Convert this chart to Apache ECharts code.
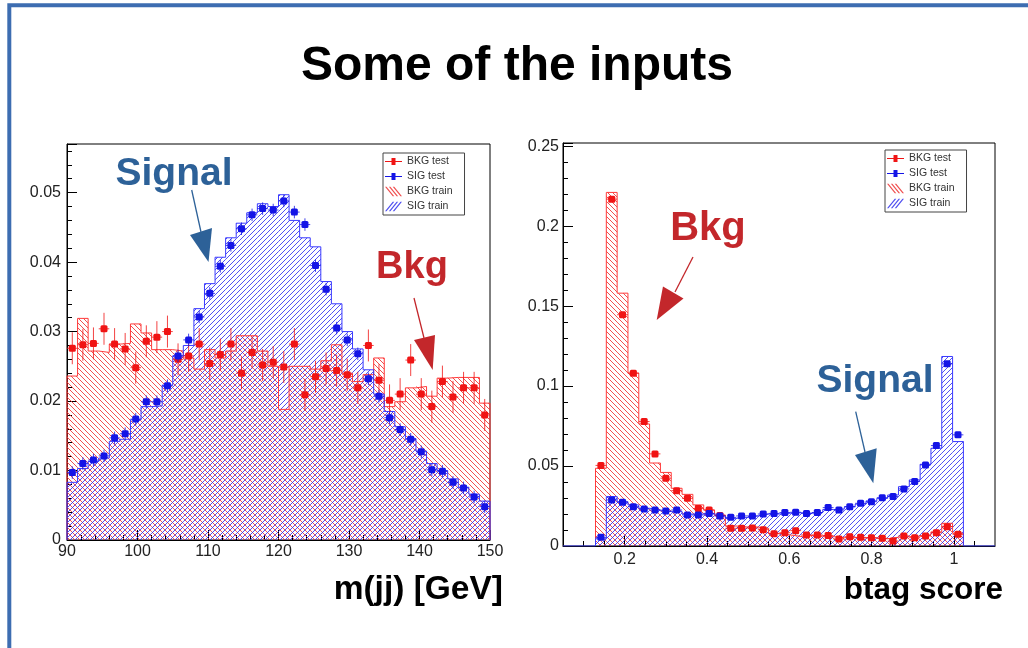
<!DOCTYPE html>
<html>
<head>
<meta charset="utf-8">
<title>Some of the inputs</title>
<script src="https://cdn.jsdelivr.net/npm/echarts@6.0.0/dist/echarts.min.js"></script>
<style>
html, body { margin: 0; padding: 0; background: #fff; }
#main { width: 1028px; height: 648px; }
</style>
</head>
<body>
<div id="main"></div>
<script>
// m(jj): 40 bins of 1.5 GeV starting at 90
var mjjStart = 90, mjjWidth = 1.5;
var mjjBkgTrain = [0.0236,0.0319,0.0272,0.0270,0.0282,0.0283,0.0311,0.0298,0.0274,0.0274,
                   0.0272,0.0262,0.0246,0.0274,0.0262,0.0272,0.0294,0.0294,0.0272,0.0250,
                   0.0188,0.0250,0.0250,0.0246,0.0258,0.0281,0.0240,0.0228,0.0238,0.0262,
                   0.0192,0.0199,0.0219,0.0221,0.0207,0.0233,0.0234,0.0234,0.0234,0.0197];
var mjjSigTrain = [0.0083,0.0103,0.0113,0.0118,0.0142,0.0145,0.0173,0.0192,0.0193,0.0223,
                   0.0265,0.0280,0.0333,0.0369,0.0407,0.0435,0.0456,0.0471,0.0484,0.0480,
                   0.0497,0.0460,0.0435,0.0422,0.0372,0.0340,0.0300,0.0275,0.0245,0.0210,
                   0.0185,0.0163,0.0146,0.0128,0.0110,0.0100,0.0088,0.0076,0.0066,0.0056];
var mjjBkgTest = [0.0276,0.0281,0.0283,0.0304,0.0282,0.0275,0.0248,0.0286,0.0292,0.0300,
                  0.0260,0.0265,0.0282,0.0254,0.0267,0.0282,0.0240,0.0270,0.0252,0.0256,
                  0.0249,0.0282,0.0209,0.0235,0.0247,0.0244,0.0238,0.0219,0.0280,0.0230,
                  0.0201,0.0210,0.0259,0.0210,0.0192,0.0228,0.0206,0.0219,0.0219,0.0180];
var mjjSigTest = [0.0097,0.0110,0.0115,0.0121,0.0147,0.0153,0.0174,0.0199,0.0199,0.0222,
                  0.0265,0.0288,0.0321,0.0355,0.0394,0.0424,0.0448,0.0468,0.0477,0.0475,
                  0.0488,0.0472,0.0454,0.0395,0.0361,0.0305,0.0288,0.0268,0.0232,0.0207,
                  0.0176,0.0159,0.0145,0.0127,0.0101,0.0099,0.0083,0.0075,0.0062,0.0048];
var mjjBkgErr = 0.0023, mjjSigErr = 0.0009;

// btag score: 34 bins
var btagStart = 0.129, btagWidth = 0.0263;
var btagBkgTrain = [0.0486,0.2211,0.1581,0.1081,0.0763,0.0519,0.0460,0.0361,0.0323,0.0257,
                    0.0225,0.0194,0.0125,0.0119,0.0119,0.0110,0.0079,0.0069,0.0060,0.0065,
                    0.0062,0.0058,0.0052,0.0052,0.0050,0.0050,0.0045,0.0055,0.0058,0.0062,
                    0.0070,0.0088,0.0142,0.0080];
var btagSigTrain = [0.0045,0.0309,0.0277,0.0257,0.0236,0.0225,0.0215,0.0215,0.0200,0.0200,
                    0.0200,0.0188,0.0173,0.0178,0.0188,0.0200,0.0200,0.0205,0.0208,0.0205,
                    0.0210,0.0228,0.0232,0.0245,0.0262,0.0282,0.0298,0.0319,0.0371,0.0413,
                    0.0511,0.0611,0.1185,0.0653];
var btagBkgTest = [0.0504,0.2169,0.1446,0.1081,0.0778,0.0576,0.0424,0.0346,0.0298,0.0234,
                   0.0225,0.0190,0.0111,0.0111,0.0113,0.0102,0.0077,0.0083,0.0096,0.0069,
                   0.0069,0.0065,0.0044,0.0058,0.0054,0.0052,0.0048,0.0031,0.0063,0.0052,
                   0.0063,0.0083,0.0121,0.0073];
var btagSigTest = [0.0054,0.0288,0.0273,0.0246,0.0232,0.0225,0.0219,0.0225,0.0194,0.0194,
                   0.0204,0.0188,0.0179,0.0188,0.0188,0.0200,0.0204,0.0209,0.0211,0.0204,
                   0.0209,0.0240,0.0225,0.0246,0.0267,0.0277,0.0302,0.0309,0.0357,0.0403,
                   0.0507,0.0628,0.1139,0.0695];
var btagBkgErr = 0.0018, btagSigErr = 0.0010;

var btagLabels = [0.2, 0.4, 0.6, 0.8, 1];
var btagMinor = [0.1, 0.15, 0.25, 0.3, 0.35, 0.45, 0.5, 0.55, 0.65, 0.7, 0.75, 0.85, 0.9, 0.95, 1.05];

var RED = '#f01414', BLUE = '#1414e6';
var FONT = '"Liberation Sans", Arial, Helvetica, sans-serif';
var HATCH_STEP = 5;

// step outline of a histogram
function histLine(start, width, vals, lo, hi) {
	var pts = [];
	if (lo != null) pts.push([lo, 0]);
	pts.push([start, 0]);
	for (var i = 0; i < vals.length; i++) pts.push([start + i * width, vals[i]]);
	var end = start + vals.length * width;
	pts.push([end, vals[vals.length - 1]]);
	pts.push([end, 0]);
	if (hi != null) pts.push([hi, 0]);
	return pts;
}

function binPoints(start, width, vals, err) {
	return vals.map(function (v, i) { return [start + (i + 0.5) * width, v, err]; });
}

function binBoxes(start, width, vals) {
	return vals.map(function (v, i) { return [start + i * width, start + (i + 1) * width, v]; });
}

// diagonal hatching of one bin, dir > 0 is '/', otherwise '\'
function hatchRender(color, dir) {
	return function (params, api) {
		var a = api.coord([api.value(0), api.value(2)]);
		var b = api.coord([api.value(1), 0]);
		var X0 = a[0], X1 = b[0], Y0 = a[1], Y1 = b[1];
		var s = HATCH_STEP, d = '', k, xa, xb;
		if (dir > 0) {
			for (k = Math.ceil((X0 + Y0) / s) * s; k <= X1 + Y1; k += s) {
				xa = Math.max(X0, k - Y1); xb = Math.min(X1, k - Y0);
				if (xb > xa) d += 'M' + xa.toFixed(2) + ',' + (k - xa).toFixed(2) + 'L' + xb.toFixed(2) + ',' + (k - xb).toFixed(2);
			}
		} else {
			for (k = Math.ceil((X0 - Y1) / s) * s; k <= X1 - Y0; k += s) {
				xa = Math.max(X0, k + Y0); xb = Math.min(X1, k + Y1);
				if (xb > xa) d += 'M' + xa.toFixed(2) + ',' + (xa - k).toFixed(2) + 'L' + xb.toFixed(2) + ',' + (xb - k).toFixed(2);
			}
		}
		if (!d) return null;
		return { type: 'path', shape: { pathData: d }, style: { stroke: color, lineWidth: 1, fill: 'none' } };
	};
}

function pointRender(color, halfWidth) {
	return function (params, api) {
		var x = api.value(0), y = api.value(1), e = api.value(2);
		var c = api.coord([x, y]);
		var t = api.coord([x, y + e]), b = api.coord([x, y - e]);
		var l = api.coord([x - halfWidth, y]), r = api.coord([x + halfWidth, y]);
		return {
			type: 'group',
			children: [
				{ type: 'line', shape: { x1: c[0], y1: t[1], x2: c[0], y2: b[1] }, style: { stroke: color, lineWidth: 1, opacity: 0.8 } },
				{ type: 'line', shape: { x1: l[0], y1: c[1], x2: r[0], y2: c[1] }, style: { stroke: color, lineWidth: 1, opacity: 0.8 } },
				{ type: 'rect', shape: { x: c[0] - 3.5, y: c[1] - 3.5, width: 7, height: 7, r: 1.5 }, style: { fill: color } }
			]
		};
	};
}

function outlineSeries(name, xi, data, lineColor, z) {
	return {
		name: name, type: 'line', xAxisIndex: xi, yAxisIndex: xi === 0 ? 0 : 1,
		step: 'end', symbol: 'none', data: data, z: z, silent: true,
		lineStyle: { color: lineColor, width: 1 },
		itemStyle: { color: lineColor }
	};
}

function hatchSeries(name, xi, data, color, dir, z) {
	return {
		name: name, type: 'custom', xAxisIndex: xi, yAxisIndex: xi === 0 ? 0 : 1,
		dimensions: ['lo', 'hi', 'v'], encode: { x: ['lo', 'hi'], y: 'v' },
		renderItem: hatchRender(color, dir), data: data, z: z, silent: true
	};
}

function pointSeries(name, xi, data, color, halfWidth, z) {
	return {
		name: name, type: 'custom', xAxisIndex: xi, yAxisIndex: xi === 0 ? 0 : 1,
		dimensions: ['x', 'y', 'err'], encode: { x: 'x', y: 'y' },
		renderItem: pointRender(color, halfWidth), data: data, z: z, silent: true
	};
}

var testIcon = 'path://M0,4.5H6.5V1.5H10.5V4.5H17V5.5H10.5V8.5H6.5V5.5H0Z';
var bkgIcon = 'path://M0,0H1.6L9.6,10H8ZM4,0H5.6L13.6,10H12ZM8,0H9.6L17.6,10H16Z';
var sigIcon = 'path://M0,10H1.6L9.6,0H8ZM4,10H5.6L13.6,0H12ZM8,10H9.6L17.6,0H16Z';

function legendBox(left, top) {
	return {
		left: left, top: top, orient: 'vertical', selectedMode: false,
		itemWidth: 17, itemHeight: 10, itemGap: 2,
		padding: [2, 12, 2, 2],
		borderColor: '#444', borderWidth: 1, backgroundColor: '#fff',
		textStyle: { fontSize: 10.5, color: '#333', fontFamily: FONT, lineHeight: 13 },
		data: [
			{ name: 'BKG test', icon: testIcon, itemStyle: { color: RED, borderWidth: 0 } },
			{ name: 'SIG test', icon: testIcon, itemStyle: { color: BLUE, borderWidth: 0 } },
			{ name: 'BKG train', icon: bkgIcon, itemStyle: { color: '#f05050', borderWidth: 0 } },
			{ name: 'SIG train', icon: sigIcon, itemStyle: { color: '#5050f0', borderWidth: 0 } }
		]
	};
}

var axisLabelStyle = { fontSize: 16, color: '#222', fontFamily: FONT };
var tickLine = { color: '#000', width: 1 };

function arrow(x1, y1, x2, y2, head, color) {
	return [
		{ type: 'polyline', shape: { points: [[x1, y1], [x2, y2]] }, style: { stroke: color, lineWidth: 1.3 }, z: 100 },
		{ type: 'polygon', shape: { points: head }, style: { fill: color }, z: 100 }
	];
}

var SIGC = '#2d6198', BKGC = '#c3272b';
var RED_HATCH = 'rgba(240,40,40,0.82)', BLUE_HATCH = 'rgba(40,40,240,0.82)';

var myChart = echarts.init(document.getElementById('main'));

var option = {
	animation: false,
	backgroundColor: '#fff',
	grid: [
		{ left: 67, top: 144, width: 423, height: 396, show: true, borderColor: '#000', borderWidth: 1, backgroundColor: 'transparent' },
		{ left: 563, top: 143, width: 432, height: 403, show: true, borderColor: '#000', borderWidth: 1, backgroundColor: 'transparent' }
	],
	xAxis: [
		{
			gridIndex: 0, type: 'value', min: 90, max: 150, interval: 10,
			axisLine: { show: true, onZero: false, lineStyle: tickLine },
			axisTick: { inside: true, length: 10, lineStyle: tickLine },
			minorTick: { show: true, splitNumber: 5, length: 5, lineStyle: tickLine },
			axisLabel: Object.assign({ margin: 4 }, axisLabelStyle),
			splitLine: { show: false }
		},
		{
			gridIndex: 1, type: 'value', min: 0.05, max: 1.1,
			axisLine: { show: true, onZero: false, lineStyle: tickLine },
			axisTick: { inside: true, length: 10, lineStyle: tickLine, customValues: btagLabels },
			axisLabel: Object.assign({ margin: 6, customValues: btagLabels }, axisLabelStyle),
			splitLine: { show: false }
		},
		{
			gridIndex: 1, type: 'value', min: 0.05, max: 1.1, position: 'bottom',
			axisLine: { show: false },
			axisTick: { inside: true, length: 5, lineStyle: tickLine, customValues: btagMinor },
			axisLabel: { show: false },
			splitLine: { show: false }
		}
	],
	yAxis: [
		{
			gridIndex: 0, type: 'value', min: 0, max: 0.057, interval: 0.01,
			axisLine: { show: true, onZero: false, lineStyle: tickLine },
			axisTick: { inside: true, length: 10, lineStyle: tickLine },
			minorTick: { show: true, splitNumber: 5, length: 5, lineStyle: tickLine },
			axisLabel: Object.assign({ margin: 6, showMaxLabel: false }, axisLabelStyle),
			splitLine: { show: false }
		},
		{
			gridIndex: 1, type: 'value', min: 0, max: 0.252, interval: 0.05,
			axisLine: { show: true, onZero: false, lineStyle: tickLine },
			axisTick: { inside: true, length: 10, lineStyle: tickLine },
			minorTick: { show: true, splitNumber: 5, length: 5, lineStyle: tickLine },
			axisLabel: Object.assign({ margin: 4, showMaxLabel: false }, axisLabelStyle),
			splitLine: { show: false }
		}
	],
	legend: [legendBox(383, 153), legendBox(885, 150)],
	series: [
		hatchSeries('BKG train', 0, binBoxes(mjjStart, mjjWidth, mjjBkgTrain), RED_HATCH, -1, 1),
		hatchSeries('SIG train', 0, binBoxes(mjjStart, mjjWidth, mjjSigTrain), BLUE_HATCH, 1, 2),
		outlineSeries('BKG train', 0, histLine(mjjStart, mjjWidth, mjjBkgTrain), '#ff3a3a', 3),
		outlineSeries('SIG train', 0, histLine(mjjStart, mjjWidth, mjjSigTrain), '#3a3aff', 4),
		pointSeries('BKG test', 0, binPoints(mjjStart, mjjWidth, mjjBkgTest, mjjBkgErr), RED, mjjWidth / 2, 5),
		pointSeries('SIG test', 0, binPoints(mjjStart, mjjWidth, mjjSigTest, mjjSigErr), BLUE, mjjWidth / 2, 6),

		hatchSeries('BKG train', 1, binBoxes(btagStart, btagWidth, btagBkgTrain), RED_HATCH, -1, 1),
		hatchSeries('SIG train', 1, binBoxes(btagStart, btagWidth, btagSigTrain), BLUE_HATCH, 1, 2),
		outlineSeries('BKG train', 1, histLine(btagStart, btagWidth, btagBkgTrain), '#ff3a3a', 3),
		outlineSeries('SIG train', 1, histLine(btagStart, btagWidth, btagSigTrain, 0.05, 1.1), '#3a3aff', 4),
		pointSeries('BKG test', 1, binPoints(btagStart, btagWidth, btagBkgTest, btagBkgErr), RED, btagWidth / 2, 5),
		pointSeries('SIG test', 1, binPoints(btagStart, btagWidth, btagSigTest, btagSigErr), BLUE, btagWidth / 2, 6)
	],
	graphic: [
		// slide frame
		{ type: 'rect', shape: { x: 9.3, y: 5.3, width: 1040, height: 660 }, style: { fill: 'none', stroke: '#3d6db1', lineWidth: 4 }, z: 100 },
		{ type: 'text', style: { text: 'Some of the inputs', x: 517, y: 67, textAlign: 'center', textVerticalAlign: 'middle', font: 'bold 48px ' + FONT, fill: '#000' }, z: 100 },
		{ type: 'text', style: { text: 'm(jj) [GeV]', x: 503, y: 590, textAlign: 'right', textVerticalAlign: 'middle', font: 'bold 33.5px ' + FONT, fill: '#000' }, z: 100 },
		{ type: 'text', style: { text: 'btag score', x: 1003, y: 590, textAlign: 'right', textVerticalAlign: 'middle', font: 'bold 31.5px ' + FONT, fill: '#000' }, z: 100 },
		{ type: 'text', style: { text: 'Signal', x: 174, y: 174, textAlign: 'center', textVerticalAlign: 'middle', font: 'bold 39px ' + FONT, fill: SIGC }, z: 100 },
		{ type: 'text', style: { text: 'Bkg', x: 412, y: 268, textAlign: 'center', textVerticalAlign: 'middle', font: 'bold 38px ' + FONT, fill: BKGC }, z: 100 },
		{ type: 'text', style: { text: 'Bkg', x: 708, y: 229, textAlign: 'center', textVerticalAlign: 'middle', font: 'bold 40px ' + FONT, fill: BKGC }, z: 100 },
		{ type: 'text', style: { text: 'Signal', x: 875, y: 381, textAlign: 'center', textVerticalAlign: 'middle', font: 'bold 39px ' + FONT, fill: SIGC }, z: 100 }
	].concat(
		arrow(191.7, 190, 201, 232, [[190, 235], [212, 228], [208.5, 262]], SIGC),
		arrow(414, 298, 424, 338, [[414, 340], [435, 335], [432.7, 370]], BKGC),
		arrow(693, 257, 675, 292, [[663, 286.5], [683.5, 298.5], [656.7, 320]], BKGC),
		arrow(855.7, 411.7, 865, 452, [[855, 455], [876.7, 448.3], [873.3, 483.3]], SIGC)
	)
};

myChart.setOption(option);

window.addEventListener('resize', function () {
	myChart.resize();
});
</script>
</body>
</html>
